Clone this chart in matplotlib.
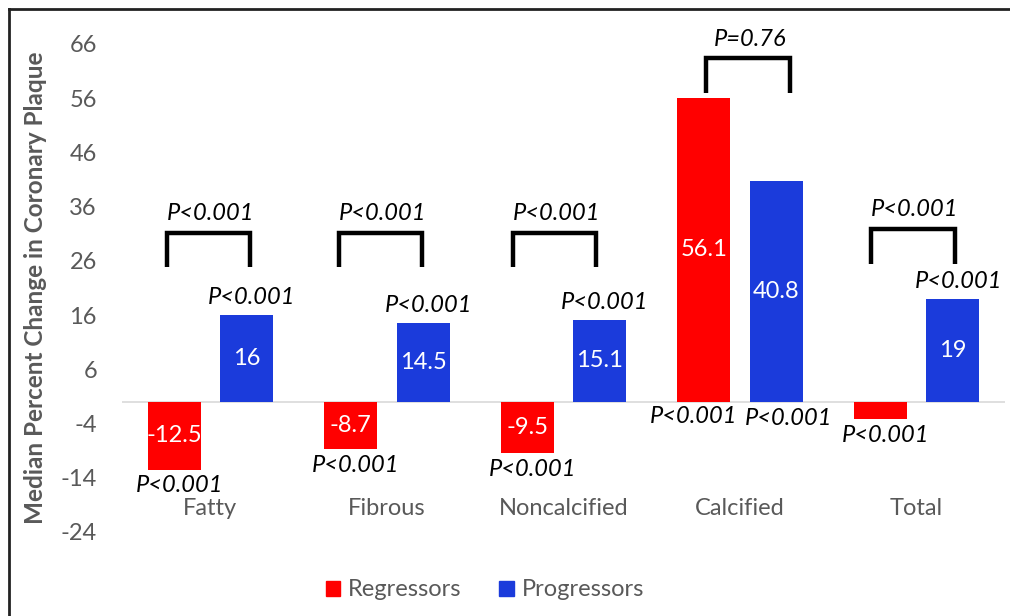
import matplotlib
matplotlib.use("Agg")
import matplotlib.pyplot as plt
from matplotlib.lines import Line2D
from matplotlib.patches import Patch
import numpy as np

plt.rcParams['font.family'] = ['Lato', 'DejaVu Sans']

# Median percent change per plaque type
categories = ['Fatty', 'Fibrous', 'Noncalcified', 'Calcified', 'Total']
regressors = [-12.5, -8.7, -9.5, 56.1, -3.2]
progressors = [16, 14.5, 15.1, 40.8, 19]
reg_labels = ['-12.5', '-8.7', '-9.5', '56.1', '']
prog_labels = ['16', '14.5', '15.1', '40.8', '19']
reg_p = ['P<0.001'] * 5
prog_p = ['P<0.001'] * 5
between_p = ['P<0.001', 'P<0.001', 'P<0.001', 'P=0.76', 'P<0.001']
yticks = [-24, -14, -4, 6, 16, 26, 36, 46, 56, 66]

RED = '#ff0000'
BLUE = '#1b3bdb'
GRAY = '#595959'
FS = 17

fig = plt.figure(figsize=(10.1, 6.16), dpi=100)
ax = fig.add_axes([0.1208, 0.1364, 0.8742, 0.7922])

x = np.arange(len(categories))
w = 0.30
off = 0.205
ax.bar(x - off, regressors, w, color=RED, zorder=2)
ax.bar(x + off, progressors, w, color=BLUE, zorder=2)

ax.set_xlim(-0.5, len(categories) - 0.5)
ax.set_ylim(-24, 66)
ax.set_yticks(yticks)
ax.set_yticklabels([str(t) for t in yticks], fontsize=FS, color=GRAY)
ax.tick_params(axis='y', length=0, pad=18)
ax.set_xticks([])
for s in ax.spines.values():
    s.set_visible(False)
ax.axhline(0, color='#d9d9d9', lw=1.2, zorder=1)

ax.set_ylabel('Median Percent Change in Coronary Plaque', fontsize=17.5,
              fontweight='bold', color=GRAY)
ax.yaxis.set_label_coords(-0.085, 0.5)

# category names sit low in the plot area
for i, c in enumerate(categories):
    ax.text(i, -19.6, c, ha='center', va='center', fontsize=FS, color=GRAY)

# values inside bars
for i in range(len(categories)):
    if reg_labels[i]:
        ax.text(i - off, regressors[i] / 2, reg_labels[i], ha='center',
                va='center', fontsize=FS, color='white', zorder=3)
    ax.text(i + off, progressors[i] / 2, prog_labels[i], ha='center',
            va='center', fontsize=FS, color='white', zorder=3)

# within-group p values
for i in range(len(categories)):
    if regressors[i] < 0:
        ax.text(i - off + 0.03, regressors[i] - 3.0, reg_p[i], ha='center',
                va='center', fontsize=FS, style='italic')
    else:
        ax.text(i - off - 0.06, -2.7, reg_p[i], ha='center', va='center',
                fontsize=FS, style='italic')
    if i == 3:
        ax.text(i + off + 0.07, -3.0, prog_p[i], ha='center', va='center',
                fontsize=FS, style='italic')
    else:
        ax.text(i + off + 0.03, progressors[i] + 3.2, prog_p[i], ha='center',
                va='center', fontsize=FS, style='italic')

# brackets comparing the two groups
bracket_shift = [-0.01, -0.035, -0.05, 0.045, -0.02]
bracket_top = [31.2, 31.2, 31.2, 63.4, 31.9]
half = 0.236
drop = 6.4
for i in range(len(categories)):
    cx = i + bracket_shift[i]
    yt = bracket_top[i]
    ax.plot([cx - half, cx - half, cx + half, cx + half],
            [yt - drop, yt, yt, yt - drop], color='black', lw=3.2,
            solid_joinstyle='miter', solid_capstyle='butt', zorder=3)
    ax.text(cx + 0.01, yt + 3.5, between_p[i], ha='center', va='center',
            fontsize=FS, style='italic')

handles = [Patch(color=RED, label='Regressors'),
           Patch(color=BLUE, label='Progressors')]
leg = fig.legend(handles=handles, loc='center', ncol=2,
                 bbox_to_anchor=(485 / 1010, 1 - 590 / 616), frameon=False,
                 fontsize=FS, handlelength=0.6, handleheight=0.6,
                 handletextpad=0.35, columnspacing=1.6)
for t in leg.get_texts():
    t.set_color(GRAY)

# outer frame on the left and top
fig.add_artist(Line2D([9 / 1010, 9 / 1010], [0, 1 - 9 / 616],
                      transform=fig.transFigure, color='#222222', lw=2))
fig.add_artist(Line2D([9 / 1010, 1], [1 - 9 / 616, 1 - 9 / 616],
                      transform=fig.transFigure, color='#222222', lw=2))

fig.savefig('out.png', dpi=100, facecolor='white')
